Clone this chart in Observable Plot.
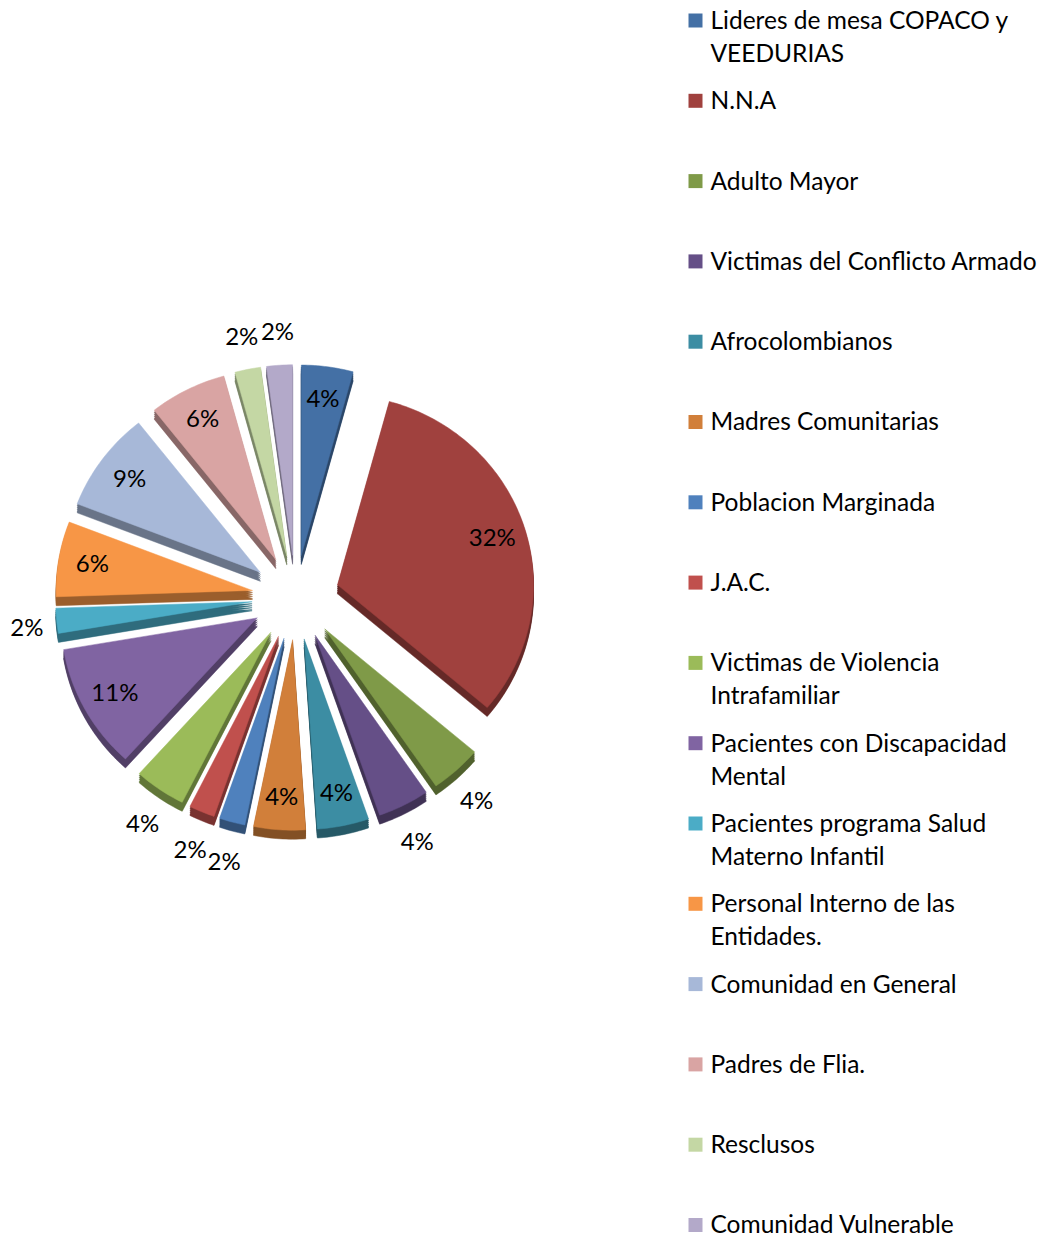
<!DOCTYPE html>
<html>
<head>
<meta charset="utf-8">
<script src="https://cdn.jsdelivr.net/npm/d3@7"></script>
<script src="https://cdn.jsdelivr.net/npm/@observablehq/plot@0.6"></script>
<style>
  html, body { margin: 0; padding: 0; background: #fff; }
  #chart svg { display: block; }
</style>
</head>
<body>
<div id="chart"></div>
<script>
// ---- data ----
const categories = [
  "Lideres de mesa COPACO y VEEDURIAS",
  "N.N.A",
  "Adulto Mayor",
  "Victimas del Conflicto Armado",
  "Afrocolombianos",
  "Madres Comunitarias",
  "Poblacion Marginada",
  "J.A.C.",
  "Victimas de Violencia Intrafamiliar",
  "Pacientes con Discapacidad Mental",
  "Pacientes programa Salud Materno Infantil",
  "Personal Interno de las Entidades.",
  "Comunidad en General",
  "Padres de Flia.",
  "Resclusos",
  "Comunidad Vulnerable"
];
const counts = [2, 15, 2, 2, 2, 2, 1, 1, 2, 5, 1, 3, 4, 3, 1, 1];
const colors = [
  "#4470a5", "#a0413e", "#7f9a48", "#654f87", "#3c8da3", "#d17f3a",
  "#4f81bd", "#c0504d", "#9bbb59", "#8064a2", "#4bacc6", "#f79646",
  "#a7b8d8", "#d9a4a3", "#c4d7a4", "#b3a9c9"
];

// ---- layout ----
const W = 1043, H = 1240;
const cx = 295, cy = 597, R = 196, explode = 44, depth = 9, ky = 0.97;
const outsideLabel = new Set([
  "Adulto Mayor", "Victimas del Conflicto Armado", "Poblacion Marginada", "J.A.C.",
  "Victimas de Violencia Intrafamiliar", "Pacientes programa Salud Materno Infantil",
  "Resclusos", "Comunidad Vulnerable"
]);
const total = d3.sum(counts);
const sideKey = c => c + " \u00b7 lado";

const arcs = d3.pie().sort(null).value((d, i) => counts[i])(categories);

function slicePoints(a, key, dy) {
  const mid = (a.startAngle + a.endAngle) / 2;
  const ox = cx + explode * Math.sin(mid);
  const oy = cy - ky * explode * Math.cos(mid) + dy;
  const pts = [{key, x: ox, y: oy}];
  const n = Math.max(4, Math.ceil((a.endAngle - a.startAngle) / (Math.PI / 180)));
  for (let k = 0; k <= n; k++) {
    const t = a.startAngle + (a.endAngle - a.startAngle) * k / n;
    pts.push({key, x: ox + R * Math.sin(t), y: oy - ky * R * Math.cos(t)});
  }
  pts.push({key, x: ox, y: oy});
  return pts;
}

const sidePts = [];
for (const off of [2, 4, 6, 8, depth]) {
  arcs.forEach(a => sidePts.push(...slicePoints(a, sideKey(a.data), off).map(p => ({...p, z: a.data + off}))));
}
const facePts = [];
arcs.forEach(a => facePts.push(...slicePoints(a, a.data, 0).map(p => ({...p, z: a.data}))));

const labels = arcs.map((a, i) => {
  const mid = (a.startAngle + a.endAngle) / 2;
  const out = outsideLabel.has(a.data);
  const r = out ? 270 : 206;
  return {
    text: Math.round(counts[i] / total * 100) + "%",
    x: cx + r * Math.sin(mid),
    y: out ? cy + 4 - r * Math.cos(mid) : cy - ky * r * Math.cos(mid)
  };
});

const legend = categories.map((c, i) => ({cat: c, y: 20 + i * 80.3}));

const chart = Plot.plot({
  width: W,
  height: H,
  margin: 0,
  style: {fontFamily: "Lato, sans-serif", background: "#fff"},
  x: {domain: [0, W], range: [0, W], axis: null},
  y: {domain: [0, H], range: [0, H], axis: null},
  color: {
    domain: categories.concat(categories.map(sideKey)),
    range: colors.concat(colors.map(c => d3.color(c).darker(1.3).formatHex()))
  },
  marks: [
    Plot.line(sidePts, {x: "x", y: "y", z: "z", fill: "key", stroke: "key", strokeWidth: 0.5, curve: "linear"}),
    Plot.line(facePts, {x: "x", y: "y", z: "z", fill: "key", stroke: "key", strokeWidth: 0.5, curve: "linear"}),
    Plot.text(labels, {x: "x", y: "y", text: "text", fontSize: 24, fill: "#000"}),
    Plot.dot(legend, {x: () => 695, y: "y", symbol: "square", r: 7.9, fill: "cat", stroke: null}),
    Plot.text(legend, {x: () => 710, y: "y", text: "cat", textAnchor: "start", lineAnchor: "top", dy: -15,
      fontSize: 24.5, fill: "#000", lineWidth: 15.5, lineHeight: 1.35})
  ]
});
document.getElementById("chart").appendChild(chart);
</script>
</body>
</html>
